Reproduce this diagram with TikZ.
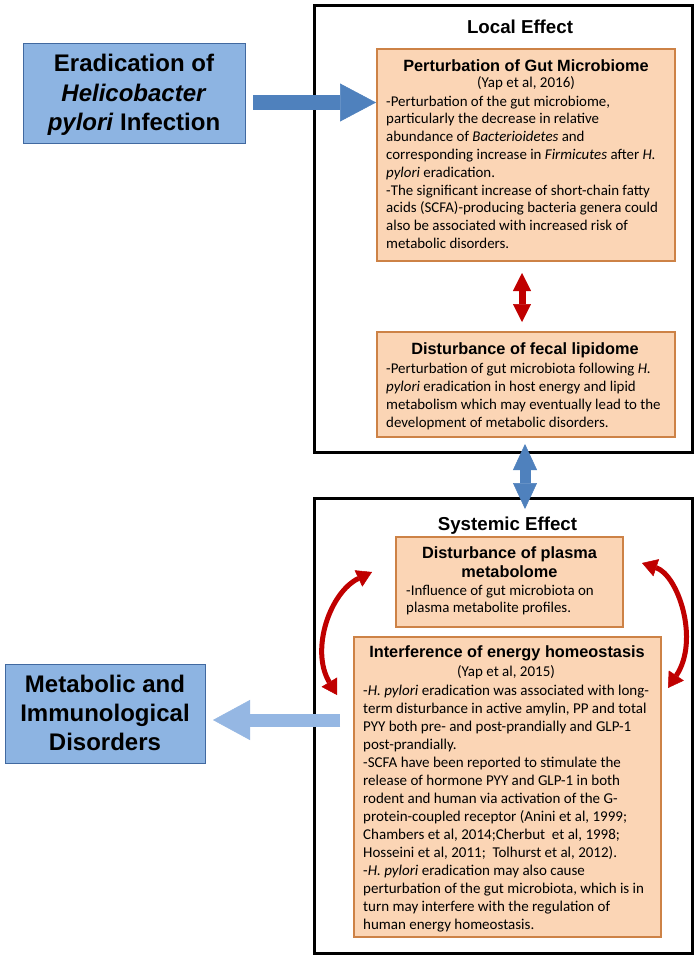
\documentclass[tikz,border=0pt]{standalone}
\usepackage{fontspec}
\setmainfont{Carlito}
\newfontfamily\arialf{Liberation Sans}
\usetikzlibrary{arrows.meta,calc}
\definecolor{bfill}{RGB}{141,180,226}
\definecolor{bdraw}{RGB}{65,105,160}
\definecolor{darrow}{RGB}{79,129,189}
\definecolor{larrow}{RGB}{149,183,227}
\definecolor{ofill}{RGB}{251,213,181}
\definecolor{odraw}{RGB}{205,130,70}
\definecolor{redc}{RGB}{192,0,0}
\begin{document}
\begin{tikzpicture}[x=1pt,y=-1pt,
  frame/.style={draw=black, line width=3pt, minimum width=378pt, anchor=north west, inner sep=0pt, outer sep=0pt},
  bluebox/.style={draw=bdraw, fill=bfill, line width=1pt, anchor=north west, inner sep=0pt, outer sep=0pt},
  obox/.style={draw=odraw, fill=ofill, line width=1.2pt, anchor=north west, inner sep=0pt, outer sep=0pt},
  bigtext/.style={font=\arialf\bfseries\fontsize{24}{29.3}\selectfont, align=center, anchor=north, inner sep=0pt},
  frametitle/.style={font=\arialf\bfseries\fontsize{18.7}{22}\selectfont, anchor=base, inner sep=0pt},
  otitle/.style={font=\arialf\bfseries\fontsize{16.3}{18.5}\selectfont, anchor=base, inner sep=0pt, align=center},
  oref/.style={font=\fontsize{15}{17.8}\selectfont, anchor=base, inner sep=0pt},
  obody/.style={align=left, anchor=north west, inner sep=0pt},
  bigarrow/.style={draw=darrow, line width=15pt, -{Triangle[length=36pt, width=38pt, line width=0.5pt]}},
  backarrow/.style={draw=larrow, line width=13pt, -{Triangle[length=37pt, width=40pt, line width=0.5pt]}},
  linkarrow/.style={draw=darrow, line width=11pt, {Triangle[length=26pt, width=24pt, line width=0.5pt]}-{Triangle[length=26pt, width=24pt, line width=0.5pt]}},
  redarrow/.style={draw=redc, line width=7pt, {Triangle[length=18pt, width=18pt, line width=0.5pt]}-{Triangle[length=18pt, width=18pt, line width=0.5pt]}},
  arcarrow/.style={draw=redc, line width=5pt, {Triangle[length=15pt, width=18pt, line width=0.5pt]}-{Triangle[length=15pt, width=18pt, line width=0.5pt]}}
]
\useasboundingbox[fill=white] (0,0) rectangle (698,959);

% frames
\node[frame, minimum height=447pt] (local) at (314,5) {};
\node[frame, minimum height=455pt] (sys) at (314,498) {};
\node[frametitle] (localt) at (520,33) {Local Effect};
\node[frametitle] (syst) at (507.5,530) {Systemic Effect};

% blue boxes
\node[bluebox, minimum width=222pt, minimum height=100pt] (erad) at (23,43) {};
\node[bigtext] (eradt) at (134,51.2) {\strut Eradication of\\\textit{Helicobacter}\\\textit{pylori} Infection};
\node[bluebox, minimum width=200pt, minimum height=99pt] (metab) at (5,664) {};
\node[bigtext, font=\arialf\bfseries\fontsize{24}{29}\selectfont] (metabt) at (105,671.7) {\strut Metabolic and\\Immunological\\Disorders};

% orange boxes
\node[obox, minimum width=298pt, minimum height=212pt] (pgm) at (377,49) {};
\node[otitle] (pgmt) at (526,71) {Perturbation of Gut Microbiome};
\node[oref] (pgmr) at (526,87.7) {(Yap et al, 2016)};
\node[obody, font=\fontsize{14.9}{17.8}\selectfont] (pgmb) at (386,93.5) {\strut-Perturbation of the gut microbiome,\\
particularly the decrease in relative\\
abundance of \textit{Bacterioidetes} and\\
corresponding increase in \textit{Firmicutes} after \textit{H.}\\
\textit{pylori} eradication.\\
-The significant increase of short-chain fatty\\
acids (SCFA)-producing bacteria genera could\\
also be associated with increased risk of\\
metabolic disorders.};

\node[obox, minimum width=298pt, minimum height=105pt] (fecal) at (377,332) {};
\node[otitle] (fecalt) at (525,354) {Disturbance of fecal lipidome};
\node[obody, font=\fontsize{14.9}{18}\selectfont] (fecalb) at (386,360.7) {\strut-Perturbation of gut microbiota following \textit{H.}\\
\textit{pylori} eradication in host energy and lipid\\
metabolism which may eventually lead to the\\
development of metabolic disorders.};

\node[obox, minimum width=227pt, minimum height=90pt] (plasma) at (396,537) {};
\node[otitle, anchor=north] (plasmat) at (509.5,545.4) {\strut Disturbance of plasma\\metabolome};
\node[obody, font=\fontsize{14.9}{17.7}\selectfont] (plasmab) at (406,582.6) {\strut-Influence of gut microbiota on\\
plasma metabolite profiles.};

\node[obox, minimum width=307pt, minimum height=300pt] (energy) at (354,637) {};
\node[otitle] (energyt) at (507,657.3) {Interference of energy homeostasis};
\node[oref] (energyr) at (506,676.7) {(Yap et al, 2015)};
\node[obody, font=\fontsize{15}{18}\selectfont] (energyb) at (363,682.4) {\strut-\textit{H. pylori} eradication was associated with long-\\
term disturbance in active amylin, PP and total\\
PYY both pre- and post-prandially and GLP-1\\
post-prandially.\\
-SCFA have been reported to stimulate the\\
release of hormone PYY and GLP-1 in both\\
rodent and human via activation of the G-\\
protein-coupled receptor (Anini et al, 1999;\\
Chambers et al, 2014;Cherbut \ et al, 1998;\\
Hosseini et al, 2011; \ Tolhurst et al, 2012).\\
-\textit{H. pylori} eradication may also cause\\
perturbation of the gut microbiota, which is in\\
turn may interfere with the regulation of\\
human energy homeostasis.};

% connectors
\coordinate (a1) at ($(erad.east)+(8,9.5)$);
\draw[bigarrow, shorten >=1pt] (a1) -- (a1 -| pgm.west);

\coordinate (a2) at ($(metab.east)+(8,6.5)$);
\draw[backarrow, shorten <=14pt] (a2 -| energy.west) -- (a2);

\draw[linkarrow, shorten <=7pt, shorten >=28pt] ([xshift=-1pt]fecal.south) -- ([xshift=-1pt]fecal.south |- plasma.north);

\draw[redarrow, shorten <=12pt, shorten >=10pt] ([xshift=-4pt]pgm.south) -- ([xshift=-4pt]fecal.north);

\coordinate (p1) at ($(plasma.west)+(-24,-10)$);
\coordinate (p2) at ($(energy.west)+(-17,-92)$);
\draw[arcarrow] (p1) .. controls +(-42,20) and +(-27,-45) .. (p2);

\coordinate (q1) at ($(plasma.east)+(19,-19)$);
\coordinate (q2) at ($(energy.east)+(7,-99)$);
\draw[arcarrow] (q1) .. controls +(36,12) and +(32,-48) .. (q2);
\end{tikzpicture}
\end{document}
